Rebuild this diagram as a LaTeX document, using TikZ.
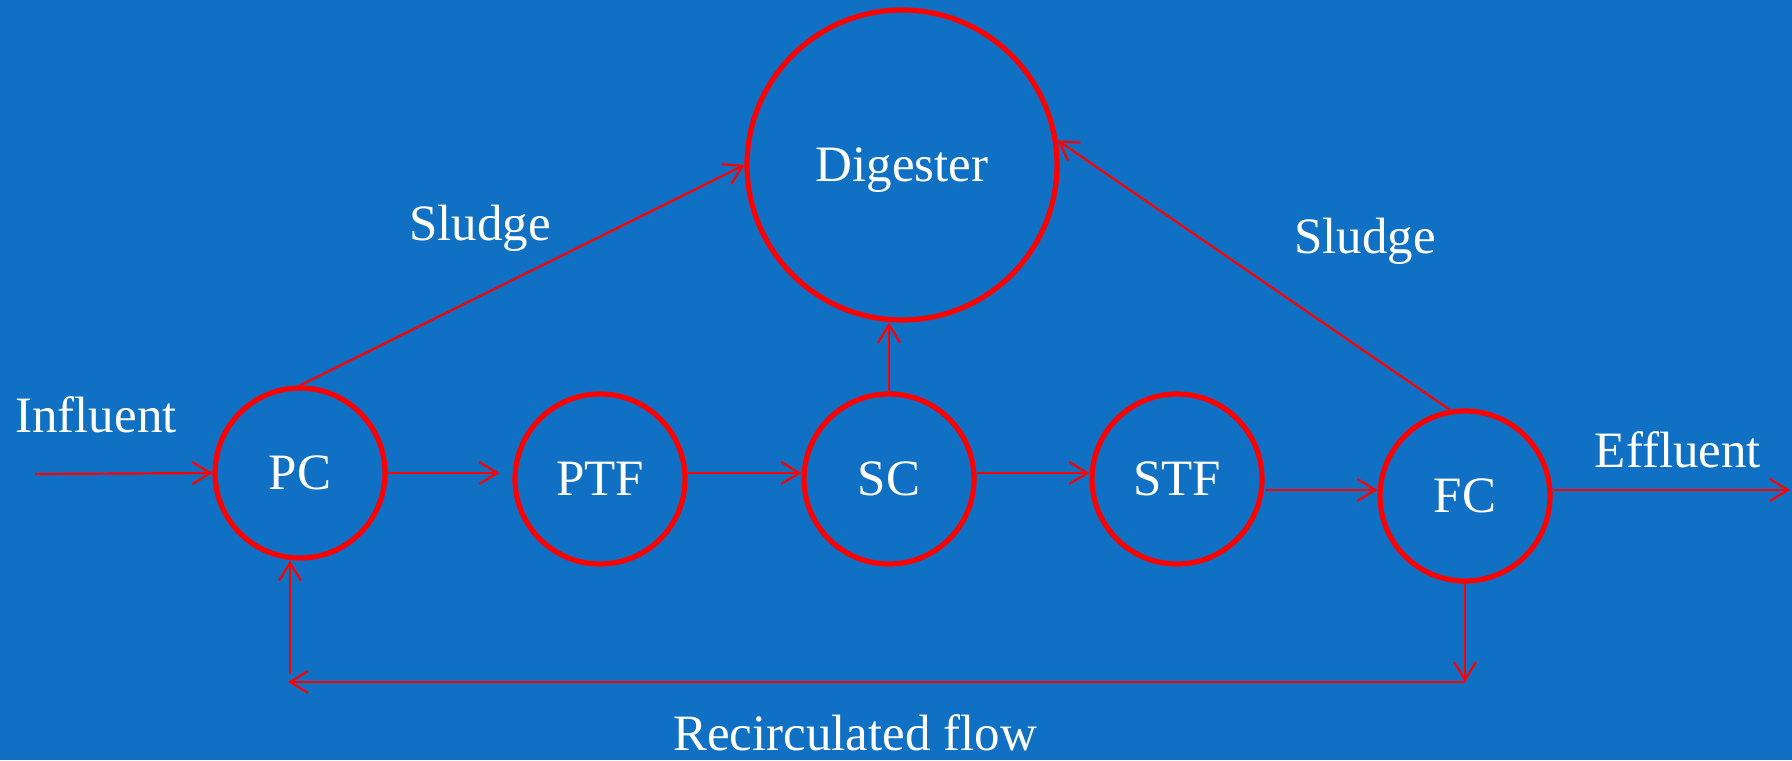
\documentclass[tikz,border=0pt]{standalone}
\usepackage{fontspec}
\setmainfont{Liberation Serif}
\usetikzlibrary{arrows.meta}
\definecolor{bgblue}{RGB}{16,112,196}

\begin{document}
\begin{tikzpicture}[x=0.5pt, y=-0.5pt, >={Straight Barb[length=9pt,width=11pt]},
font=\fontsize{25.5}{30}\selectfont,
unit/.style={circle, draw=red, line width=2.6pt, minimum size=85pt, inner sep=0pt, text=white, text depth=0pt},
flow/.style={red, line width=1.1pt, ->},
lbl/.style={text=white}]

\useasboundingbox (0,0) rectangle (1792,760);
\fill[bgblue] (0,0) rectangle (1792,760);

%\draw[step=100,color=gray!80] (0,0) grid (1792,760);

\node[unit, minimum size=155pt] (Dig) at (902,165) {Digester};
\node[unit] (PC) at (300,473) {PC};
\node[unit] (PTF) at (600,479) {PTF};
\node[unit] (SC) at (889,479) {SC};
\node[unit] (STF) at (1177,479) {STF};
\node[unit] (FC) at (1465,496) {FC};

\coordinate (inflow) at (35,474);
\coordinate (outflow) at (1790,490);
\coordinate (recR) at (1465,682);
\coordinate (recL) at (288,682);
\coordinate (recUp) at (290,674);

\draw[flow] (inflow) -- (PC.west);
\draw[flow] (PC.east) -- ([xshift=-6.5pt]PTF.west |- PC.east);
\draw[flow] (PTF.east |- PC.east) -- (SC.west |- PC.east);
\draw[flow] (SC.east |- PC.east) -- (STF.west |- PC.east);
\draw[flow] (STF.east |- outflow) -- (FC.west |- outflow);
\draw[flow] (FC.east |- outflow) -- (outflow);

\draw[flow] (PC.north) -- (Dig.west);
\draw[flow] (FC.100) -- (Dig.9);
\draw[flow] (SC.north) -- (SC.north |- Dig.south);

\draw[flow] (FC.south) -- (recR);
\draw[flow] (recR) -- (recL);
\draw[flow] (recUp) -- (recUp |- PC.south);

\node[lbl] (influent) at (96,415) {Influent};
\node[lbl] (effluent) at (1678,450) {Effluent};
\node[lbl] (sludgeL) at (480,228) {Sludge};
\node[lbl] (sludgeR) at (1365,241) {Sludge};
\node[lbl] (recirc) at (855,733) {Recirculated flow};

\end{tikzpicture}
\end{document}
